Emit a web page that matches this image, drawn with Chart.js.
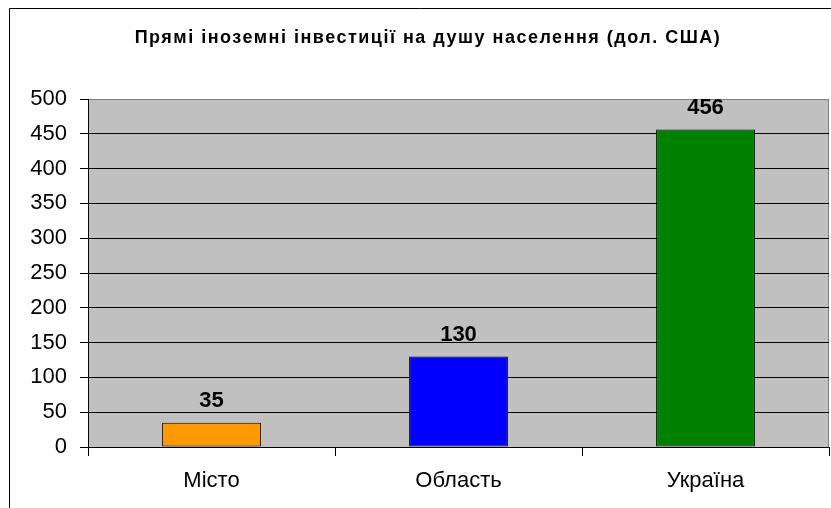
<!DOCTYPE html>
<html>
<head>
<meta charset="utf-8">
<script src="https://cdn.jsdelivr.net/npm/chart.js@4"></script>
<style>
  html, body { margin: 0; padding: 0; background: #fff; }
  #wrap { width: 831px; height: 508px; }
</style>
</head>
<body>
<div id="wrap"><canvas id="chart" width="831" height="508"></canvas></div>
<script>
const chartTitle = "Прямі іноземні інвестиції на душу населення (дол. США)";
const categories = ["Місто", "Область", "Україна"];
const values = [35, 130, 456];
const barColors = ["#FF9900", "#0000FF", "#008000"];
const yTicks = [0, 50, 100, 150, 200, 250, 300, 350, 400, 450, 500];

const FONT = "Arial, 'Liberation Sans', sans-serif";

// frame, plot background, title
const framePlugin = {
  id: "frame",
  beforeDraw(chart) {
    const ctx = chart.ctx;
    const a = chart.chartArea;
    ctx.save();
    ctx.fillStyle = "#fff";
    ctx.fillRect(0, 0, chart.width, chart.height);
    ctx.strokeStyle = "#000";
    ctx.lineWidth = 1;
    ctx.beginPath();
    ctx.moveTo(9.5, chart.height);
    ctx.lineTo(9.5, 8.5);
    ctx.lineTo(chart.width, 8.5);
    ctx.stroke();
    ctx.fillStyle = "#C0C0C0";
    ctx.fillRect(a.left, a.top, a.right - a.left, a.bottom - a.top);
    ctx.strokeStyle = "#808080";
    ctx.strokeRect(a.left + 0.5, a.top + 0.5, a.right - a.left - 1, a.bottom - a.top);
    ctx.fillStyle = "#000";
    ctx.font = "bold 18px " + FONT;
    ctx.letterSpacing = "1.5px";
    ctx.textAlign = "center";
    ctx.textBaseline = "alphabetic";
    ctx.fillText(chartTitle, 428, 43);
    ctx.restore();
  },
  afterDatasetsDraw(chart) {
    const ctx = chart.ctx;
    const meta = chart.getDatasetMeta(0);
    ctx.save();
    ctx.fillStyle = "#000";
    ctx.font = "bold 22px " + FONT;
    ctx.textAlign = "center";
    ctx.textBaseline = "alphabetic";
    meta.data.forEach((bar, i) => {
      ctx.fillText(String(values[i]), bar.x, bar.y - 16);
    });
    ctx.restore();
  }
};

new Chart(document.getElementById("chart"), {
  type: "bar",
  data: {
    labels: categories,
    datasets: [{
      data: values,
      backgroundColor: barColors,
      borderColor: "#000",
      borderWidth: 1,
      borderSkipped: false,
      barPercentage: 0.4,
      categoryPercentage: 1
    }]
  },
  options: {
    responsive: false,
    animation: false,
    devicePixelRatio: 1,
    layout: { padding: { top: 99, left: 0, right: 2, bottom: 0 } },
    plugins: {
      legend: { display: false },
      title: { display: false },
      tooltip: { enabled: false }
    },
    scales: {
      x: {
        offset: true,
        afterFit(scale) { scale.height = 61; },
        grid: {
          offset: true,
          drawOnChartArea: false,
          drawTicks: true,
          tickLength: 9,
          color: "#000"
        },
        border: { display: true, color: "#000", width: 1 },
        ticks: {
          color: "#000",
          padding: 12,
          font: { family: FONT, size: 22 }
        }
      },
      y: {
        min: 0,
        max: 500,
        afterFit(scale) { scale.width = 88; },
        afterBuildTicks(scale) { scale.ticks = yTicks.map(v => ({ value: v })); },
        grid: {
          color: (c) => c.tick && c.tick.value === 500 ? "#808080" : "#000",
          tickColor: "#000",
          tickLength: 8,
          lineWidth: 1
        },
        border: { display: true, color: "#000", width: 1 },
        ticks: {
          color: "#000",
          padding: 13,
          font: { family: FONT, size: 22 }
        }
      }
    }
  },
  plugins: [framePlugin]
});
</script>
</body>
</html>
